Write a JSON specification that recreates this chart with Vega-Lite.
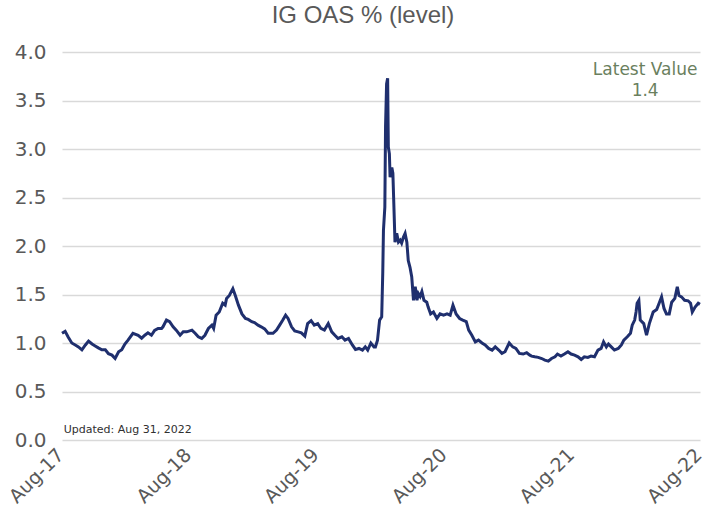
{
  "$schema": "https://vega.github.io/schema/vega-lite/v6.json",
  "width": 638,
  "height": 388,
  "autosize": {"type": "none"},
  "padding": {"left": 62, "top": 52, "right": 6, "bottom": 78},
  "background": "white",
  "config": {"view": {"stroke": null}},
  "title": {"text": "IG OAS % (level)", "font": "Liberation Sans", "fontSize": 24, "fontWeight": "normal", "color": "#595959", "anchor": "middle", "frame": "group", "dx": -18, "offset": 14},
  "datasets": {
    "ig": [
      {"date": "2017-08-31", "oas": 1.10},
      {"date": "2017-09-09", "oas": 1.12},
      {"date": "2017-09-18", "oas": 1.06},
      {"date": "2017-09-28", "oas": 1.00},
      {"date": "2017-10-08", "oas": 0.98},
      {"date": "2017-10-17", "oas": 0.96},
      {"date": "2017-10-27", "oas": 0.93},
      {"date": "2017-11-06", "oas": 0.98},
      {"date": "2017-11-15", "oas": 1.02},
      {"date": "2017-11-25", "oas": 0.99},
      {"date": "2017-12-04", "oas": 0.97},
      {"date": "2017-12-13", "oas": 0.95},
      {"date": "2017-12-23", "oas": 0.93},
      {"date": "2018-01-02", "oas": 0.93},
      {"date": "2018-01-11", "oas": 0.89},
      {"date": "2018-01-21", "oas": 0.875},
      {"date": "2018-01-30", "oas": 0.84},
      {"date": "2018-02-09", "oas": 0.91},
      {"date": "2018-02-18", "oas": 0.93},
      {"date": "2018-02-27", "oas": 0.99},
      {"date": "2018-03-08", "oas": 1.03},
      {"date": "2018-03-22", "oas": 1.10},
      {"date": "2018-04-06", "oas": 1.08},
      {"date": "2018-04-16", "oas": 1.05},
      {"date": "2018-04-25", "oas": 1.08},
      {"date": "2018-05-04", "oas": 1.105},
      {"date": "2018-05-14", "oas": 1.08},
      {"date": "2018-05-23", "oas": 1.13},
      {"date": "2018-06-02", "oas": 1.15},
      {"date": "2018-06-12", "oas": 1.15},
      {"date": "2018-06-16", "oas": 1.167},
      {"date": "2018-06-26", "oas": 1.236},
      {"date": "2018-07-05", "oas": 1.22},
      {"date": "2018-07-15", "oas": 1.167},
      {"date": "2018-07-24", "oas": 1.133},
      {"date": "2018-08-04", "oas": 1.08},
      {"date": "2018-08-13", "oas": 1.115},
      {"date": "2018-08-23", "oas": 1.115},
      {"date": "2018-09-07", "oas": 1.133},
      {"date": "2018-09-16", "oas": 1.10},
      {"date": "2018-09-25", "oas": 1.064},
      {"date": "2018-10-05", "oas": 1.047},
      {"date": "2018-10-14", "oas": 1.08},
      {"date": "2018-10-24", "oas": 1.15},
      {"date": "2018-11-03", "oas": 1.184},
      {"date": "2018-11-08", "oas": 1.15},
      {"date": "2018-11-15", "oas": 1.287},
      {"date": "2018-11-24", "oas": 1.32},
      {"date": "2018-12-04", "oas": 1.41},
      {"date": "2018-12-11", "oas": 1.39},
      {"date": "2018-12-15", "oas": 1.46},
      {"date": "2018-12-23", "oas": 1.49},
      {"date": "2019-01-02", "oas": 1.56},
      {"date": "2019-01-09", "oas": 1.49},
      {"date": "2019-01-18", "oas": 1.39},
      {"date": "2019-01-28", "oas": 1.30},
      {"date": "2019-02-07", "oas": 1.253},
      {"date": "2019-02-15", "oas": 1.243},
      {"date": "2019-02-25", "oas": 1.22},
      {"date": "2019-03-05", "oas": 1.21},
      {"date": "2019-03-15", "oas": 1.184},
      {"date": "2019-03-24", "oas": 1.167},
      {"date": "2019-04-03", "oas": 1.145},
      {"date": "2019-04-13", "oas": 1.10},
      {"date": "2019-04-27", "oas": 1.10},
      {"date": "2019-05-07", "oas": 1.133},
      {"date": "2019-05-16", "oas": 1.184},
      {"date": "2019-05-25", "oas": 1.236},
      {"date": "2019-06-02", "oas": 1.287},
      {"date": "2019-06-09", "oas": 1.253},
      {"date": "2019-06-19", "oas": 1.167},
      {"date": "2019-06-28", "oas": 1.125},
      {"date": "2019-07-08", "oas": 1.115},
      {"date": "2019-07-17", "oas": 1.105},
      {"date": "2019-07-27", "oas": 1.071},
      {"date": "2019-08-04", "oas": 1.20},
      {"date": "2019-08-14", "oas": 1.23},
      {"date": "2019-08-23", "oas": 1.184},
      {"date": "2019-09-02", "oas": 1.20},
      {"date": "2019-09-11", "oas": 1.15},
      {"date": "2019-09-21", "oas": 1.133},
      {"date": "2019-10-02", "oas": 1.20},
      {"date": "2019-10-12", "oas": 1.115},
      {"date": "2019-10-21", "oas": 1.08},
      {"date": "2019-10-30", "oas": 1.047},
      {"date": "2019-11-10", "oas": 1.064},
      {"date": "2019-11-19", "oas": 1.03},
      {"date": "2019-11-29", "oas": 1.047},
      {"date": "2019-12-10", "oas": 0.98},
      {"date": "2019-12-19", "oas": 0.934},
      {"date": "2019-12-29", "oas": 0.944},
      {"date": "2020-01-08", "oas": 0.927},
      {"date": "2020-01-16", "oas": 0.96},
      {"date": "2020-01-23", "oas": 0.927},
      {"date": "2020-02-01", "oas": 1.00},
      {"date": "2020-02-10", "oas": 0.96},
      {"date": "2020-02-14", "oas": 0.96},
      {"date": "2020-02-20", "oas": 1.03},
      {"date": "2020-02-26", "oas": 1.236},
      {"date": "2020-03-03", "oas": 1.27},
      {"date": "2020-03-06", "oas": 1.72},
      {"date": "2020-03-08", "oas": 2.16},
      {"date": "2020-03-12", "oas": 2.40},
      {"date": "2020-03-14", "oas": 3.23},
      {"date": "2020-03-17", "oas": 3.67},
      {"date": "2020-03-20", "oas": 3.73},
      {"date": "2020-03-22", "oas": 3.02},
      {"date": "2020-03-25", "oas": 2.95},
      {"date": "2020-03-27", "oas": 2.71},
      {"date": "2020-04-01", "oas": 2.81},
      {"date": "2020-04-04", "oas": 2.75},
      {"date": "2020-04-07", "oas": 2.40},
      {"date": "2020-04-10", "oas": 2.04},
      {"date": "2020-04-15", "oas": 2.13},
      {"date": "2020-04-20", "oas": 2.04},
      {"date": "2020-04-25", "oas": 2.06},
      {"date": "2020-04-29", "oas": 2.03},
      {"date": "2020-05-04", "oas": 2.09},
      {"date": "2020-05-09", "oas": 2.13},
      {"date": "2020-05-14", "oas": 2.04},
      {"date": "2020-05-18", "oas": 1.85},
      {"date": "2020-05-23", "oas": 1.78},
      {"date": "2020-05-28", "oas": 1.68},
      {"date": "2020-06-02", "oas": 1.44},
      {"date": "2020-06-07", "oas": 1.58},
      {"date": "2020-06-12", "oas": 1.44},
      {"date": "2020-06-16", "oas": 1.51},
      {"date": "2020-06-21", "oas": 1.48},
      {"date": "2020-06-26", "oas": 1.53},
      {"date": "2020-07-02", "oas": 1.44},
      {"date": "2020-07-10", "oas": 1.42},
      {"date": "2020-07-14", "oas": 1.37},
      {"date": "2020-07-21", "oas": 1.30},
      {"date": "2020-07-29", "oas": 1.32},
      {"date": "2020-08-08", "oas": 1.253},
      {"date": "2020-08-17", "oas": 1.30},
      {"date": "2020-08-27", "oas": 1.287},
      {"date": "2020-09-06", "oas": 1.30},
      {"date": "2020-09-15", "oas": 1.287},
      {"date": "2020-09-23", "oas": 1.39},
      {"date": "2020-10-02", "oas": 1.30},
      {"date": "2020-10-12", "oas": 1.253},
      {"date": "2020-10-21", "oas": 1.236},
      {"date": "2020-10-31", "oas": 1.22},
      {"date": "2020-11-07", "oas": 1.133},
      {"date": "2020-11-16", "oas": 1.08},
      {"date": "2020-11-26", "oas": 1.012},
      {"date": "2020-12-05", "oas": 1.03},
      {"date": "2020-12-15", "oas": 1.00},
      {"date": "2020-12-24", "oas": 0.98},
      {"date": "2021-01-03", "oas": 0.944},
      {"date": "2021-01-13", "oas": 0.927},
      {"date": "2021-01-22", "oas": 0.96},
      {"date": "2021-02-01", "oas": 0.927},
      {"date": "2021-02-10", "oas": 0.893},
      {"date": "2021-02-19", "oas": 0.91},
      {"date": "2021-03-03", "oas": 1.00},
      {"date": "2021-03-13", "oas": 0.96},
      {"date": "2021-03-22", "oas": 0.944},
      {"date": "2021-04-01", "oas": 0.893},
      {"date": "2021-04-12", "oas": 0.886},
      {"date": "2021-04-22", "oas": 0.90},
      {"date": "2021-05-01", "oas": 0.875},
      {"date": "2021-05-06", "oas": 0.865},
      {"date": "2021-05-15", "oas": 0.858},
      {"date": "2021-05-25", "oas": 0.852},
      {"date": "2021-06-04", "oas": 0.84},
      {"date": "2021-06-13", "oas": 0.824},
      {"date": "2021-06-23", "oas": 0.813},
      {"date": "2021-07-02", "oas": 0.84},
      {"date": "2021-07-12", "oas": 0.858},
      {"date": "2021-07-19", "oas": 0.886},
      {"date": "2021-07-29", "oas": 0.865},
      {"date": "2021-08-08", "oas": 0.886},
      {"date": "2021-08-18", "oas": 0.91},
      {"date": "2021-08-27", "oas": 0.886},
      {"date": "2021-09-06", "oas": 0.875},
      {"date": "2021-09-16", "oas": 0.858},
      {"date": "2021-09-25", "oas": 0.83},
      {"date": "2021-10-04", "oas": 0.858},
      {"date": "2021-10-14", "oas": 0.852},
      {"date": "2021-10-23", "oas": 0.865},
      {"date": "2021-11-02", "oas": 0.858},
      {"date": "2021-11-12", "oas": 0.927},
      {"date": "2021-11-21", "oas": 0.944},
      {"date": "2021-11-28", "oas": 1.012},
      {"date": "2021-12-06", "oas": 0.96},
      {"date": "2021-12-12", "oas": 0.99},
      {"date": "2021-12-20", "oas": 0.96},
      {"date": "2021-12-29", "oas": 0.927},
      {"date": "2022-01-09", "oas": 0.944},
      {"date": "2022-01-18", "oas": 0.98},
      {"date": "2022-01-25", "oas": 1.03},
      {"date": "2022-02-04", "oas": 1.064},
      {"date": "2022-02-13", "oas": 1.10},
      {"date": "2022-02-18", "oas": 1.184},
      {"date": "2022-02-25", "oas": 1.236},
      {"date": "2022-03-01", "oas": 1.32},
      {"date": "2022-03-04", "oas": 1.41},
      {"date": "2022-03-09", "oas": 1.44},
      {"date": "2022-03-13", "oas": 1.236},
      {"date": "2022-03-23", "oas": 1.20},
      {"date": "2022-03-31", "oas": 1.08},
      {"date": "2022-04-08", "oas": 1.20},
      {"date": "2022-04-19", "oas": 1.32},
      {"date": "2022-04-29", "oas": 1.346},
      {"date": "2022-05-06", "oas": 1.41},
      {"date": "2022-05-13", "oas": 1.476},
      {"date": "2022-05-20", "oas": 1.356},
      {"date": "2022-05-27", "oas": 1.30},
      {"date": "2022-06-04", "oas": 1.30},
      {"date": "2022-06-11", "oas": 1.42},
      {"date": "2022-06-20", "oas": 1.46},
      {"date": "2022-06-27", "oas": 1.58},
      {"date": "2022-07-02", "oas": 1.49},
      {"date": "2022-07-09", "oas": 1.476},
      {"date": "2022-07-18", "oas": 1.44},
      {"date": "2022-07-28", "oas": 1.435},
      {"date": "2022-08-04", "oas": 1.41},
      {"date": "2022-08-09", "oas": 1.32},
      {"date": "2022-08-17", "oas": 1.37},
      {"date": "2022-08-26", "oas": 1.41},
      {"date": "2022-08-31", "oas": 1.40}
    ],
    "notes": [
      {"date": "2022-03-27", "oas": 3.81, "label": ["Latest Value", "1.4"]}
    ],
    "updated": [
      {"date": "2017-09-05", "oas": 0.1, "label": "Updated: Aug 31, 2022"}
    ]
  },
  "layer": [
    {
      "data": {"name": "ig"},
      "mark": {"type": "line", "color": "#1f2f6e", "strokeWidth": 3, "interpolate": "linear"},
      "encoding": {
        "x": {
          "field": "date", "type": "temporal",
          "scale": {"domain": ["2017-08-31T00:00:00", "2022-08-31T00:00:00"]},
          "axis": {
            "values": ["2017-08-31T00:00:00", "2018-08-31T00:00:00", "2019-08-31T00:00:00", "2020-08-31T00:00:00", "2021-08-31T00:00:00", "2022-08-31T00:00:00"],
            "format": "%b-%y", "labelAngle": -45, "labelAlign": "right", "labelBaseline": "top",
            "labelFont": "DejaVu Sans", "labelFontSize": 19, "labelColor": "#595959",
            "grid": false, "domain": false, "ticks": false, "labelPadding": 5, "labelOffset": -8,
            "labelOverlap": false, "labelFlush": false, "labelBound": false, "title": null
          }
        },
        "y": {
          "field": "oas", "type": "quantitative",
          "scale": {"domain": [0, 4], "nice": false},
          "axis": {
            "values": [0, 0.5, 1, 1.5, 2, 2.5, 3, 3.5, 4], "format": ".1f",
            "labelFont": "DejaVu Sans", "labelFontSize": 20, "labelColor": "#595959",
            "grid": true, "gridColor": "#d9d9d9", "gridWidth": 1.5,
            "domain": false, "ticks": false, "labelPadding": 16, "title": null
          }
        }
      }
    },
    {
      "data": {"name": "notes"},
      "mark": {"type": "text", "align": "center", "baseline": "middle", "font": "DejaVu Sans", "fontSize": 17, "color": "#6a7f5e", "lineHeight": 21},
      "encoding": {
        "x": {"field": "date", "type": "temporal"},
        "y": {"field": "oas", "type": "quantitative"},
        "text": {"field": "label"}
      }
    },
    {
      "data": {"name": "updated"},
      "mark": {"type": "text", "align": "left", "baseline": "middle", "font": "DejaVu Sans", "fontSize": 11, "color": "#303030"},
      "encoding": {
        "x": {"field": "date", "type": "temporal"},
        "y": {"field": "oas", "type": "quantitative"},
        "text": {"field": "label"}
      }
    }
  ]
}
